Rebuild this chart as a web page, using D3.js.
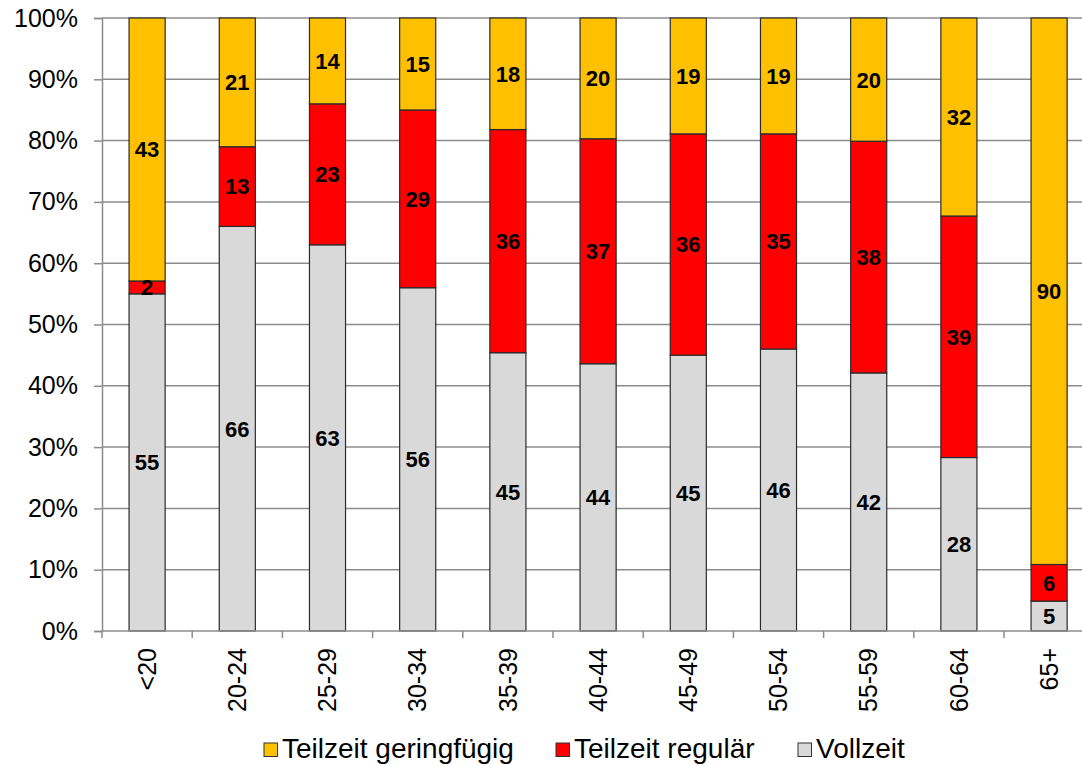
<!DOCTYPE html>
<html>
<head>
<meta charset="utf-8">
<title>Teilzeit nach Alter</title>
<script src="https://d3js.org/d3.v7.min.js"></script>
<style>
  body { margin: 0; background: #fff; }
  text { font-family: "Liberation Sans", Arial, sans-serif; }
</style>
</head>
<body>
<div id="chart"></div>
<script>
// Altersgruppen und Anteile (in %)
const groups = ["<20", "20-24", "25-29", "30-34", "35-39", "40-44", "45-49", "50-54", "55-59", "60-64", "65+"];
const vollzeit = [55.0, 66.0, 63.0, 56.0, 45.4, 43.6, 45.0, 46.0, 42.1, 28.3, 4.9];
const regulaer = [2.1, 13.0, 23.0, 29.0, 36.4, 36.7, 36.1, 35.1, 37.8, 39.4, 6.0];
const geringfuegig = [42.9, 21.0, 14.0, 15.0, 18.2, 19.7, 18.9, 18.9, 20.1, 32.3, 89.6];
const yTicks = [0, 0.1, 0.2, 0.3, 0.4, 0.5, 0.6, 0.7, 0.8, 0.9, 1];

const keys = ["vollzeit", "regulaer", "geringfuegig"];
const names = {geringfuegig: "Teilzeit geringfügig", regulaer: "Teilzeit regulär", vollzeit: "Vollzeit"};
const colors = {geringfuegig: "#FFC000", regulaer: "#FF0000", vollzeit: "#D9D9D9"};

const rows = groups.map((g, i) => ({group: g, vollzeit: vollzeit[i], regulaer: regulaer[i], geringfuegig: geringfuegig[i]}));

const W = 1082, H = 764;
const plotLeft = 102, plotTop = 18, plotBottom = 631;
const step = 90.2;

const svg = d3.select("#chart").append("svg")
    .attr("width", W).attr("height", H);

const x = d3.scaleBand()
    .domain(groups)
    .range([plotLeft, plotLeft + step * groups.length])
    .paddingInner(0.6)
    .paddingOuter(0.3);

const y = d3.scaleLinear().domain([0, 1]).range([plotBottom, plotTop]);

// Gitterlinien
svg.append("g").selectAll("line")
    .data(yTicks.filter(d => d > 0))
    .join("line")
    .attr("x1", plotLeft).attr("x2", W)
    .attr("y1", d => y(d)).attr("y2", d => y(d))
    .attr("stroke", "#8c8c8c").attr("stroke-width", 1.5);

// Y-Achse
const yAxis = d3.axisLeft(y).tickValues(yTicks).tickFormat(d3.format(".0%")).tickSize(8).tickPadding(16);
svg.append("g")
    .attr("transform", "translate(" + plotLeft + ",0)")
    .call(yAxis)
    .call(g => g.selectAll("path, line").attr("stroke", "#8c8c8c").attr("stroke-width", 1.5))
    .call(g => g.selectAll("text").attr("font-size", "25px").attr("fill", "#000")
        .style("font-family", "'Liberation Sans', Arial, sans-serif"));

// Balken
const series = d3.stack().keys(keys).offset(d3.stackOffsetExpand)(rows);

const layer = svg.append("g").selectAll("g")
    .data(series)
    .join("g")
    .attr("fill", d => colors[d.key]);

layer.selectAll("rect")
    .data(d => d)
    .join("rect")
    .attr("x", d => x(d.data.group))
    .attr("width", x.bandwidth())
    .attr("y", d => y(d[1]))
    .attr("height", d => y(d[0]) - y(d[1]))
    .attr("stroke", "#2b2b2b")
    .attr("stroke-width", 1.2);

// Datenbeschriftungen
const labels = svg.append("g");
series.forEach(s => {
    s.forEach(d => {
        labels.append("text")
            .attr("x", x(d.data.group) + x.bandwidth() / 2)
            .attr("y", (y(d[0]) + y(d[1])) / 2)
            .attr("dy", "0.36em")
            .attr("text-anchor", "middle")
            .attr("font-size", "22px")
            .attr("font-weight", "bold")
            .attr("fill", "#000")
            .text(Math.round(d.data[s.key]));
    });
});

// X-Achse
const xg = svg.append("g");
xg.append("line")
    .attr("x1", plotLeft).attr("x2", W)
    .attr("y1", plotBottom).attr("y2", plotBottom)
    .attr("stroke", "#8c8c8c").attr("stroke-width", 1.5);
xg.selectAll(".tick")
    .data(d3.range(groups.length + 1))
    .join("line")
    .attr("x1", i => plotLeft + i * x.step()).attr("x2", i => plotLeft + i * x.step())
    .attr("y1", plotBottom).attr("y2", plotBottom + 7)
    .attr("stroke", "#8c8c8c").attr("stroke-width", 1.5);
xg.selectAll("text")
    .data(groups)
    .join("text")
    .attr("transform", d => "translate(" + (x(d) + x.bandwidth() / 2) + "," + (plotBottom + 17) + ") rotate(-90)")
    .attr("text-anchor", "end")
    .attr("dy", "0.35em")
    .attr("font-size", "25px")
    .attr("fill", "#000")
    .text(d => d);

// Legende
const legendItems = [
    {key: "geringfuegig", x: 264},
    {key: "regulaer", x: 556},
    {key: "vollzeit", x: 798}
];
const legend = svg.append("g");
legendItems.forEach(it => {
    legend.append("rect")
        .attr("x", it.x).attr("y", 743)
        .attr("width", 13.5).attr("height", 13.5)
        .attr("fill", colors[it.key])
        .attr("stroke", "#333").attr("stroke-width", 1);
    legend.append("text")
        .attr("x", it.x + 18).attr("y", 758)
        .attr("font-size", "28px")
        .attr("fill", "#000")
        .text(names[it.key]);
});
</script>
</body>
</html>
